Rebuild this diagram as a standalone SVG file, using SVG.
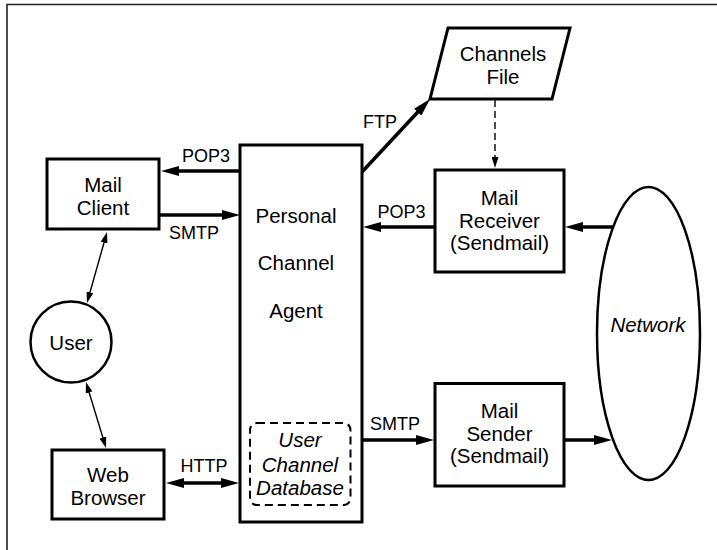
<svg xmlns="http://www.w3.org/2000/svg" width="717" height="550" viewBox="0 0 717 550">
<style>
text{font-family:"Liberation Sans",Arial,sans-serif;fill:#000;text-anchor:middle}
.n{font-size:20.5px}
.l{font-size:18px}
.i{font-style:italic}
.box{fill:#fff;stroke:#000;stroke-width:3}
.th{stroke:#000;stroke-width:3.5;fill:none}
.tn{stroke:#000;stroke-width:1.4;fill:none}
</style>
<defs>
<marker id="ah" viewBox="0 0 18 10" markerWidth="18" markerHeight="10" markerUnits="userSpaceOnUse" refX="8" refY="5" orient="auto-start-reverse">
<path d="M0,0 L18,5 L0,10 z" fill="#000"/>
</marker>
<marker id="as" viewBox="0 0 11 7" markerWidth="11" markerHeight="7" markerUnits="userSpaceOnUse" refX="5" refY="3.5" orient="auto-start-reverse">
<path d="M0,0 L11,3.5 L0,7 z" fill="#000"/>
</marker>
</defs>
<rect width="717" height="550" fill="#fff"/>
<path d="M7,550 V4.5 H717" fill="none" stroke="#222" stroke-width="1.6"/>

<g id="connectors">
<line class="th" x1="240" y1="171" x2="171" y2="171" marker-end="url(#ah)"/>
<line class="th" x1="159" y1="215" x2="230" y2="215" marker-end="url(#ah)"/>
<line class="th" x1="361" y1="173" x2="423.2" y2="106.3" marker-end="url(#ah)"/>
<line class="th" x1="435" y1="227" x2="373" y2="227" marker-end="url(#ah)"/>
<line class="th" x1="614" y1="227" x2="575" y2="227" marker-end="url(#ah)"/>
<line class="th" x1="362" y1="440" x2="424" y2="440" marker-end="url(#ah)"/>
<line class="th" x1="564" y1="440" x2="602" y2="440" marker-end="url(#ah)"/>
<line class="th" x1="176" y1="483" x2="229" y2="483" marker-start="url(#ah)" marker-end="url(#ah)"/>
<line class="tn" x1="88.6" y1="297.2" x2="105.4" y2="237.8" marker-start="url(#as)" marker-end="url(#as)"/>
<line class="tn" x1="87.7" y1="387.7" x2="104.3" y2="442.3" marker-start="url(#as)" marker-end="url(#as)"/>
<line class="tn" x1="495" y1="100" x2="495" y2="162" stroke-dasharray="7 4" marker-end="url(#as)"/>
<text class="l" x="206" y="162">POP3</text>
<text class="l" x="194" y="239">SMTP</text>
<text class="l" x="380" y="128">FTP</text>
<text class="l" x="401.5" y="218">POP3</text>
<text class="l" x="395" y="430">SMTP</text>
<text class="l" x="204" y="472">HTTP</text>
</g>

<g id="mail-client">
<rect class="box" x="47" y="159" width="112" height="70"/>
<text class="n" x="103" y="192">Mail</text>
<text class="n" x="103" y="215">Client</text>
</g>

<g id="personal-channel-agent">
<rect class="box" x="240" y="145" width="122" height="377"/>
<text class="n" x="296" y="223">Personal</text>
<text class="n" x="296" y="270">Channel</text>
<text class="n" x="296" y="318">Agent</text>
</g>

<g id="user-channel-database">
<rect x="250" y="423" width="100.5" height="82" rx="7" ry="7" fill="none" stroke="#000" stroke-width="2" stroke-dasharray="8 5"/>
<text class="n i" x="300" y="447">User</text>
<text class="n i" x="300" y="472">Channel</text>
<text class="n i" x="300" y="495">Database</text>
</g>

<g id="channels-file">
<polygon points="448,28 570,28 552,99 430,99" fill="#fff" stroke="#000" stroke-width="3"/>
<text class="n" x="503" y="61">Channels</text>
<text class="n" x="503" y="84">File</text>
</g>

<g id="mail-receiver">
<rect class="box" x="435" y="170" width="129" height="102"/>
<text class="n" x="499.5" y="205">Mail</text>
<text class="n" x="499.5" y="228">Receiver</text>
<text class="n" x="499.5" y="250">(Sendmail)</text>
</g>

<g id="mail-sender">
<rect class="box" x="435" y="383.5" width="129" height="102.5"/>
<text class="n" x="499.5" y="418">Mail</text>
<text class="n" x="499.5" y="441">Sender</text>
<text class="n" x="499.5" y="463">(Sendmail)</text>
</g>

<g id="network">
<ellipse cx="648.5" cy="333.5" rx="51.5" ry="146.5" fill="none" stroke="#000" stroke-width="2.5"/>
<text class="n i" x="648" y="332">Network</text>
</g>

<g id="user">
<circle cx="71" cy="342" r="40.5" fill="#fff" stroke="#000" stroke-width="2.5"/>
<text class="n" x="71" y="350">User</text>
</g>

<g id="web-browser">
<rect class="box" x="52" y="450" width="112" height="69"/>
<text class="n" x="108" y="482">Web</text>
<text class="n" x="108" y="505">Browser</text>
</g>
</svg>
